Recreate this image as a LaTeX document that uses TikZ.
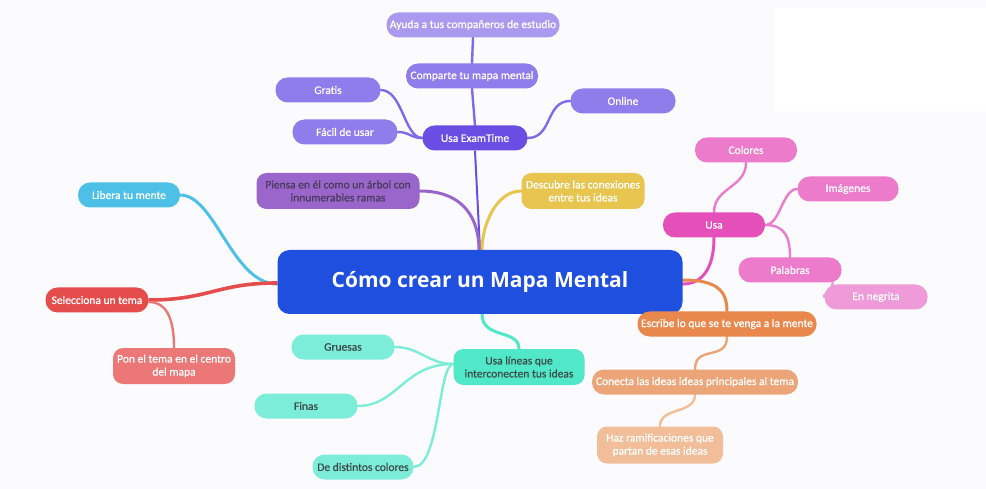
\documentclass[tikz,border=0pt]{standalone}
\usepackage{fontspec}
\setmainfont{Carlito}
\newfontfamily\titlefont{Open Sans}
\newfontfamily\boxfamily{Carlito}[RawFeature={embolden=0.7}]
\usetikzlibrary{backgrounds}
\definecolor{pagebg}{HTML}{FBFBFD}
\definecolor{exLight}{HTML}{A99AF0}
\definecolor{exMid}{HTML}{8E7DEB}
\definecolor{exDark}{HTML}{6A4EE3}
\definecolor{exLine}{HTML}{7E6BEA}
\definecolor{centre}{HTML}{1F4FDF}
\definecolor{piensa}{HTML}{9B66CC}
\definecolor{desc}{HTML}{E8C54F}
\definecolor{libera}{HTML}{4DC0E8}
\definecolor{selec}{HTML}{E54D4D}
\definecolor{pon}{HTML}{EC7777}
\definecolor{pinkDark}{HTML}{E54FB9}
\definecolor{pinkMid}{HTML}{EC7BCC}
\definecolor{pinkLight}{HTML}{F09BD9}
\definecolor{orDark}{HTML}{E8884D}
\definecolor{orMid}{HTML}{ECA579}
\definecolor{orLight}{HTML}{F2BE99}
\definecolor{tealDark}{HTML}{50E8C9}
\definecolor{tealMid}{HTML}{7BEDD9}
\definecolor{darktext}{HTML}{4A3B5C}
\definecolor{tealtext}{HTML}{3E4A48}
\tikzset{
  pill/.style={rounded corners=12pt, minimum height=25pt, inner sep=0pt,
    align=center, text=white, font=\boxfamily\fontsize{11.5}{13}\selectfont},
  tall/.style={pill, rounded corners=10pt, minimum height=36pt},
  mainline/.style={line width=3pt, line cap=round},
  subline/.style={line width=2.4pt, line cap=round},
}
\begin{document}
\begin{tikzpicture}[x=1pt,y=-1pt]
\useasboundingbox (0,0) rectangle (986,489);
% nodes
\node[rounded corners=12pt, fill=centre, minimum width=405pt, minimum height=64pt, inner sep=0pt,
  text=white, font=\titlefont\bfseries\fontsize{21}{24}\selectfont] (c) at (480,282) {Cómo crear un Mapa Mental};
% ExamTime branch
\node[pill, fill=exLight, minimum width=173pt] (ayuda) at (473,25) {Ayuda a tus compañeros de estudio};
\node[pill, fill=exMid, minimum width=132pt] (comp) at (472,76) {Comparte tu mapa mental};
\node[pill, fill=exMid, minimum width=105pt] (gratis) at (328,90) {Gratis};
\node[pill, fill=exMid, minimum width=105pt] (facil) at (345,132) {Fácil de usar};
\node[pill, fill=exDark, minimum width=105pt] (ue) at (475,138) {Usa ExamTime};
\node[pill, fill=exMid, minimum width=105pt] (online) at (623,101) {Online};
% upper
\node[tall, fill=piensa, minimum width=163pt, text=darktext] (pi) at (338,191) {Piensa en él como un árbol con\\innumerables ramas};
\node[tall, fill=desc, minimum width=123pt] (de) at (583,191) {Descubre las conexiones\\entre tus ideas};
% left
\node[pill, fill=libera, minimum width=102pt] (lib) at (129,195) {Libera tu mente};
\node[pill, fill=selec, minimum width=103pt] (sel) at (97,300) {Selecciona un tema};
\node[tall, fill=pon, minimum width=122pt] (pon) at (174,366) {Pon el tema en el centro\\del mapa};
% pink
\node[pill, fill=pinkMid, minimum width=102pt] (col) at (746,150) {Colores};
\node[pill, fill=pinkMid, minimum width=101pt] (img) at (848,189) {Imágenes};
\node[pill, fill=pinkDark, minimum width=102pt] (usa) at (714,225) {Usa};
\node[pill, fill=pinkMid, minimum width=103pt] (pal) at (790,270) {Palabras};
\node[pill, fill=pinkLight, minimum width=103pt] (neg) at (876,297) {En negrita};
% orange
\node[pill, fill=orDark, minimum width=179pt] (esc) at (727,324) {Escribe lo que se te venga a la mente};
\node[pill, fill=orMid, minimum width=206pt] (con) at (695,382) {Conecta las ideas ideas principales al tema};
\node[tall, fill=orLight, minimum width=126pt, minimum height=37pt] (haz) at (660,445) {Haz ramificaciones que\\partan de esas ideas};
% teal
\node[tall, fill=tealDark, minimum width=131pt, text=tealtext] (ul) at (519,367) {Usa líneas que\\interconecten tus ideas};
\node[pill, fill=tealMid, minimum width=103pt, text=tealtext] (gru) at (343,347) {Gruesas};
\node[pill, fill=tealMid, minimum width=103pt, text=tealtext] (fin) at (306,406) {Finas};
\node[pill, fill=tealMid, minimum width=101pt, text=tealtext] (dis) at (363,467) {De distintos colores};
% connectors
\begin{scope}[on background layer]
\fill[pagebg] (0,0) rectangle (986,489);
\fill[white] (775,7) rectangle (986,111);
% ExamTime
\draw[exDark, line width=2pt] (c.north) -- (ue.south);
\draw[exLine, subline] (ue.north) -- (comp.south);
\draw[exLine, subline] (comp.north) -- (ayuda.south);
\draw[exLine, subline] (ue.west) .. controls +(-18,0) and +(22,0) .. (gratis.east);
\draw[exLine, subline] (ue.west) .. controls +(-12,0) and +(12,0) .. (facil.east);
\draw[exLine, subline] (ue.east) .. controls +(25,0) and +(-25,0) .. (online.west);
% upper
\draw[piensa, mainline] (pi.east) .. controls +(45,0) and +(0,-30) .. ([xshift=-1pt]c.north);
\draw[desc, mainline] (de.west) .. controls +(-25,0) and +(0,-25) .. ([xshift=2pt]c.north);
% left
\draw[libera, mainline] (lib.east) .. controls +(35,0) and +(-45,0) .. ([yshift=-2pt]c.west);
\draw[selec, line width=3.6pt] (sel.east) .. controls +(60,0) and +(-60,0) .. ([yshift=-1pt]c.west);
\draw[pon, subline] ([yshift=-2pt]sel.east) .. controls +(20,0) and +(0,-25) .. (pon.north);
% pink
\draw[pinkDark, mainline] ([yshift=-2pt]c.east) .. controls +(20,0) and +(0,30) .. (usa.south);
\draw[pinkMid, subline] (usa.north) .. controls +(0,-25) and +(0,25) .. (col.south);
\draw[pinkMid, subline] (usa.east) .. controls +(15,0) and +(-15,0) .. (img.west);
\draw[pinkMid, subline] (usa.east) .. controls +(20,0) and +(0,-20) .. (pal.north);
\draw[pinkLight, subline] ([xshift=-9pt]pal.south east) .. controls +(0,8) and +(-4,0) .. (neg.west);
% orange
\draw[orDark, mainline] ([yshift=2pt]c.east) .. controls +(35,0) and +(0,-20) .. (esc.north);
\draw[orMid, subline] (esc.south) .. controls +(0,25) and +(0,-25) .. (con.north);
\draw[orLight, subline] (con.south) .. controls +(0,20) and +(0,-20) .. (haz.north);
% teal
\draw[tealDark, mainline] ([xshift=2pt]c.south) .. controls +(0,25) and +(0,-20) .. (ul.north);
\draw[tealMid, subline] ([yshift=3pt]ul.west) .. controls +(-25,0) and +(25,0) .. (gru.east);
\draw[tealMid, subline] ([yshift=3pt]ul.west) .. controls +(-50,0) and +(40,0) .. (fin.east);
\draw[tealMid, subline] ([yshift=3pt]ul.west) .. controls +(-15,0) and +(26,0) .. (dis.east);
\end{scope}
\end{tikzpicture}
\end{document}
